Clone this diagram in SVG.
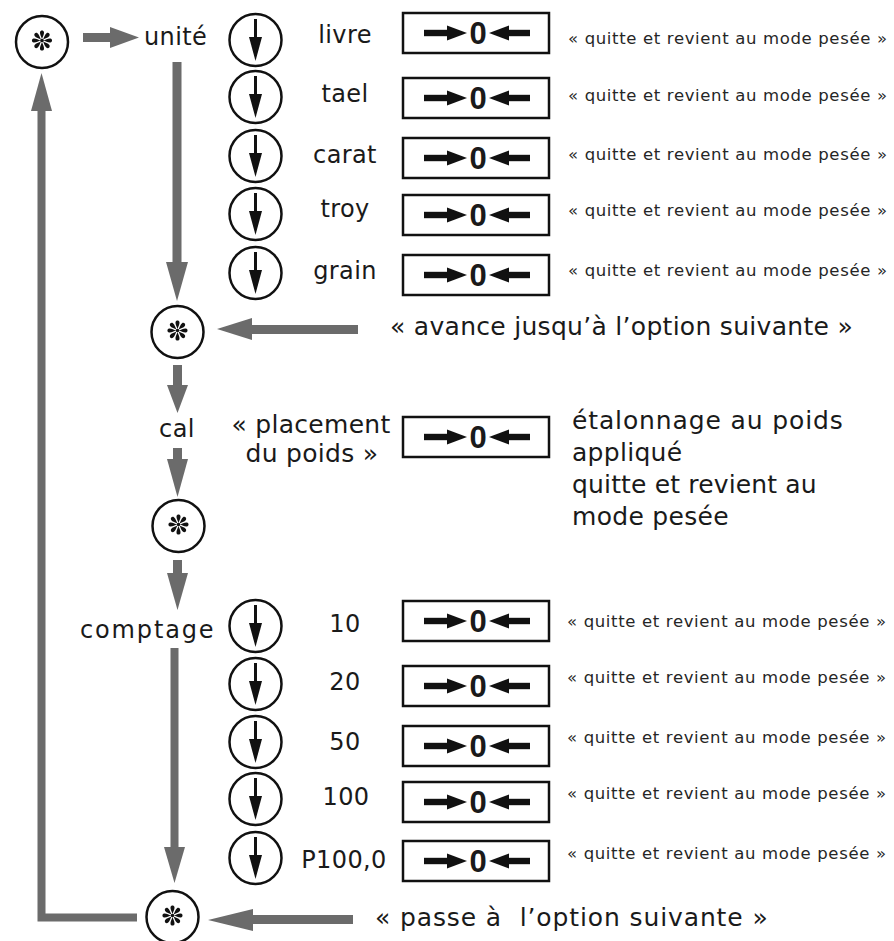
<svg xmlns="http://www.w3.org/2000/svg" xmlns:xlink="http://www.w3.org/1999/xlink" width="894" height="941" viewBox="0 0 894 941">
<style>
.lbl{font-family:"DejaVu Sans","Liberation Sans",sans-serif;font-size:24px;fill:#1a1a1a;letter-spacing:0.4px}
.big{font-family:"DejaVu Sans","Liberation Sans",sans-serif;font-size:25px;fill:#1a1a1a;letter-spacing:0.3px}
.q{font-family:"DejaVu Sans","Liberation Sans",sans-serif;font-size:16.5px;fill:#262626}
.zero{font-family:"Liberation Sans","DejaVu Sans",sans-serif;font-size:31px;font-weight:bold;fill:#1a1a1a}
.ring{fill:#fff;stroke:#111;stroke-width:2.5}
.box{fill:#fff;stroke:#111;stroke-width:2.5}
.conn{fill:#6b6b6b;stroke:none}
.connl{fill:none;stroke:#6b6b6b;stroke-width:8}
</style>
<defs>
<g id="petal"><path d="M0,-1.5 C-0.7,-3.5 -2.3,-6.3 -2,-8.4 C-1.6,-10.6 1.6,-10.6 2,-8.4 C2.3,-6.3 0.7,-3.5 0,-1.5 Z" fill="#111"/></g>
<g id="star">
<circle class="ring" cx="0" cy="0" r="26"/>
<g transform="translate(0,-1.5)">
<circle r="1.8" fill="#111"/>
<use xlink:href="#petal"/>
<use xlink:href="#petal" transform="rotate(45)"/>
<use xlink:href="#petal" transform="rotate(90)"/>
<use xlink:href="#petal" transform="rotate(135)"/>
<use xlink:href="#petal" transform="rotate(180)"/>
<use xlink:href="#petal" transform="rotate(225)"/>
<use xlink:href="#petal" transform="rotate(270)"/>
<use xlink:href="#petal" transform="rotate(315)"/>
</g>
</g>
<g id="down">
<circle class="ring" cx="0" cy="0" r="26"/>
<line x1="0" y1="-21" x2="0" y2="0" stroke="#111" stroke-width="3"/>
<polygon points="-6.5,-3 6.5,-3 0,21" fill="#111"/>
</g>
<g id="zbox">
<rect class="box" x="0" y="0" width="146" height="40"/>
<rect x="21" y="16.8" width="26" height="6.4" fill="#111"/>
<polygon points="44,12.5 64,20 44,27.5" fill="#111"/>
<text class="zero" x="75" y="31" text-anchor="middle">0</text>
<polygon points="86,20 106,12.5 106,27.5" fill="#111"/>
<rect x="104" y="16.8" width="23" height="6.4" fill="#111"/>
</g>
</defs>
<rect width="894" height="941" fill="#fff"/>

<g id="connectors">
<rect class="conn" x="83" y="33" width="29" height="9"/>
<polygon class="conn" points="110,27 139,37.5 110,48"/>
<rect class="conn" x="172.5" y="62" width="9" height="203"/>
<polygon class="conn" points="166,262 188,262 177,301"/>
<rect class="conn" x="249" y="325" width="109" height="9"/>
<polygon class="conn" points="252,318 252,340 217,329"/>
<rect class="conn" x="173" y="365" width="9" height="24"/>
<polygon class="conn" points="167,385 188,385 177.5,413"/>
<rect class="conn" x="173" y="448" width="9" height="14"/>
<polygon class="conn" points="167,459 188,459 177.5,497"/>
<rect class="conn" x="173" y="560" width="9" height="16"/>
<polygon class="conn" points="167,573 188,573 177.5,610"/>
<rect class="conn" x="170.5" y="648" width="8" height="202"/>
<polygon class="conn" points="164,847 185,847 174.5,883"/>
<rect class="conn" x="250" y="915" width="103" height="9"/>
<polygon class="conn" points="253,909 253,931 208,920"/>
<polyline class="connl" points="137,917.5 41.5,917.5 41.5,108"/>
<polygon class="conn" points="31,111 52,111 41.5,73"/>
</g>

<g id="star1"><use xlink:href="#star" x="42" y="42"/></g>
<g id="unite"><text class="lbl" x="144" y="45">unité</text></g>

<g id="livre"><use xlink:href="#down" x="255.5" y="40"/><text class="lbl" x="345" y="43" text-anchor="middle">livre</text><use xlink:href="#zbox" x="403" y="13"/><text class="q" x="568" y="44" textLength="319">« quitte et revient au mode pesée »</text></g>
<g id="tael"><use xlink:href="#down" x="255.5" y="97"/><text class="lbl" x="345" y="102" text-anchor="middle">tael</text><use xlink:href="#zbox" x="403" y="78"/><text class="q" x="568" y="101" textLength="319">« quitte et revient au mode pesée »</text></g>
<g id="carat"><use xlink:href="#down" x="255.5" y="156"/><text class="lbl" x="345" y="163" text-anchor="middle">carat</text><use xlink:href="#zbox" x="403" y="138"/><text class="q" x="568" y="160" textLength="319">« quitte et revient au mode pesée »</text></g>
<g id="troy"><use xlink:href="#down" x="255.5" y="214"/><text class="lbl" x="345" y="217" text-anchor="middle">troy</text><use xlink:href="#zbox" x="403" y="195"/><text class="q" x="568" y="216" textLength="319">« quitte et revient au mode pesée »</text></g>
<g id="grain"><use xlink:href="#down" x="255.5" y="273"/><text class="lbl" x="345" y="279" text-anchor="middle">grain</text><use xlink:href="#zbox" x="403" y="255"/><text class="q" x="568" y="276" textLength="319">« quitte et revient au mode pesée »</text></g>

<g id="star2"><use xlink:href="#star" x="177.5" y="332"/></g>
<g id="avance"><text class="big" x="390" y="335" textLength="463">« avance jusqu’à l’option suivante »</text></g>

<g id="cal"><text class="lbl" x="177" y="437" text-anchor="middle">cal</text></g>
<g id="placement">
<text class="big" x="311" y="433" text-anchor="middle">« placement</text>
<text class="big" x="312" y="462" text-anchor="middle">du poids »</text>
<use xlink:href="#zbox" x="403" y="417"/>
</g>
<g id="etalonnage">
<text class="big" x="572" y="429" textLength="271">étalonnage au poids</text>
<text class="big" x="572" y="461">appliqué</text>
<text class="big" x="572" y="493" textLength="245">quitte et revient au</text>
<text class="big" x="572" y="525">mode pesée</text>
</g>

<g id="star3"><use xlink:href="#star" x="178.5" y="526"/></g>
<g id="comptage"><text class="lbl" x="80" y="638" textLength="134">comptage</text></g>

<g id="n10"><use xlink:href="#down" x="255.5" y="626"/><text class="lbl" x="345" y="632" text-anchor="middle">10</text><use xlink:href="#zbox" x="403" y="601"/><text class="q" x="567" y="627" textLength="319">« quitte et revient au mode pesée »</text></g>
<g id="n20"><use xlink:href="#down" x="255.5" y="684"/><text class="lbl" x="345" y="690" text-anchor="middle">20</text><use xlink:href="#zbox" x="403" y="666"/><text class="q" x="567" y="683" textLength="319">« quitte et revient au mode pesée »</text></g>
<g id="n50"><use xlink:href="#down" x="255.5" y="742"/><text class="lbl" x="345" y="750" text-anchor="middle">50</text><use xlink:href="#zbox" x="403" y="726"/><text class="q" x="567" y="743" textLength="319">« quitte et revient au mode pesée »</text></g>
<g id="n100"><use xlink:href="#down" x="255.5" y="799"/><text class="lbl" x="346" y="805" text-anchor="middle">100</text><use xlink:href="#zbox" x="403" y="782"/><text class="q" x="567" y="799" textLength="319">« quitte et revient au mode pesée »</text></g>
<g id="p100"><use xlink:href="#down" x="255.5" y="858"/><text class="lbl" x="344" y="868" text-anchor="middle">P100,0</text><use xlink:href="#zbox" x="403" y="841"/><text class="q" x="567" y="859" textLength="319">« quitte et revient au mode pesée »</text></g>

<g id="star4"><use xlink:href="#star" x="172.5" y="917"/></g>
<g id="passe"><text class="big" x="375" y="926" textLength="393" xml:space="preserve">« passe à  l’option suivante »</text></g>
</svg>
